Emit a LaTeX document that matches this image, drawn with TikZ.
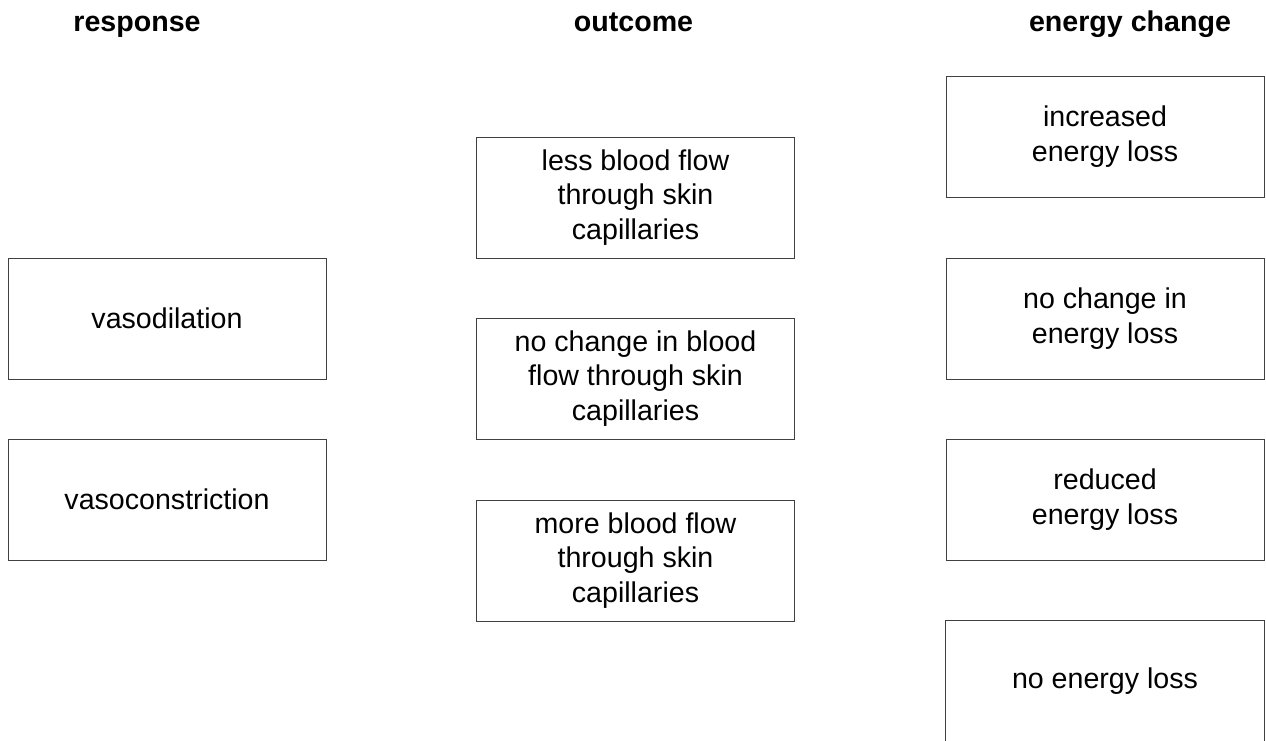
\documentclass[tikz,border=0pt]{standalone}
\usepackage{fontspec}
\setmainfont{Liberation Sans}
\begin{document}
\begin{tikzpicture}[x=1pt,y=-1pt,
  box/.style={draw=black!75,line width=1pt,rectangle,minimum width=318pt,minimum height=121pt,inner sep=0pt,align=center,font=\fontsize{28.6}{34.5}\selectfont},
  openbox/.style={rectangle,minimum width=318pt,minimum height=121pt,inner sep=0pt,align=center,font=\fontsize{28.6}{34.5}\selectfont},
  head/.style={anchor=base,inner sep=0pt,font=\fontsize{28.6}{34}\selectfont\bfseries}]
\useasboundingbox (0,0) rectangle (1266,740);
\node[head] (h1) at (137,31) {response};
\node[head] (h2) at (633.5,31) {outcome};
\node[head] (h3) at (1130,31) {energy change};
% left column
\node[box] (r1) at (167,318.5) {vasodilation};
\node[box] (r2) at (167,499.5) {vasoconstriction};
% middle column
\node[box] (o1) at (635.5,197.5) {less blood flow\\through skin\\capillaries};
\node[box] (o2) at (635.5,378.5) {no change in blood\\flow through skin\\capillaries};
\node[box] (o3) at (635.5,560.5) {more blood flow\\through skin\\capillaries};
% right column
\node[box] (e1) at (1105,136.5) {increased\\energy loss};
\node[box] (e2) at (1105,318.5) {no change in\\energy loss};
\node[box] (e3) at (1105,499.5) {reduced\\energy loss};
\node[openbox] (e4) at (1105,681.5) {no energy loss};
\draw[draw=black!75,line width=1pt] (e4.south west) -- (e4.north west) -- (e4.north east) -- (e4.south east);
\end{tikzpicture}
\end{document}
